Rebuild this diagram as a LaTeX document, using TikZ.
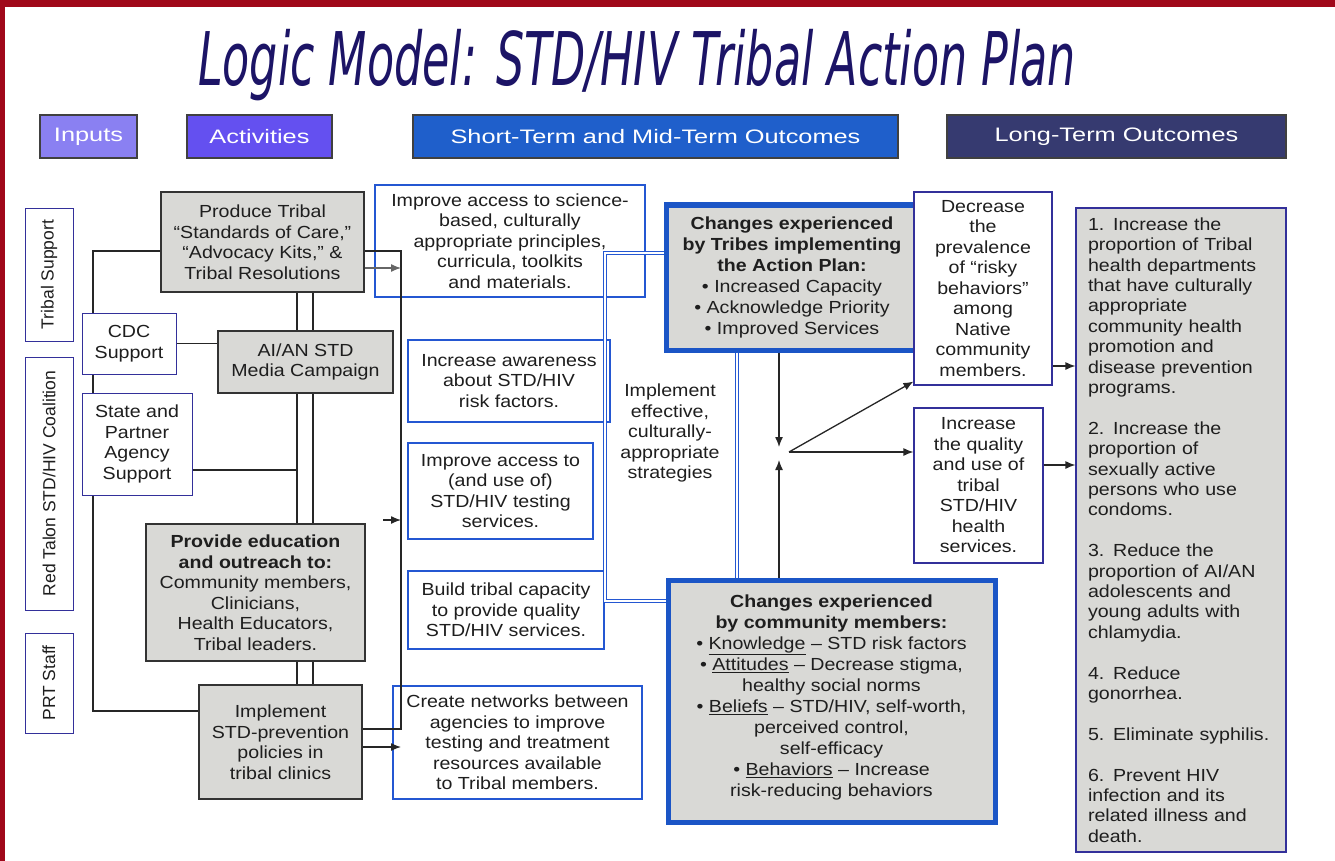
\documentclass[tikz,border=0pt]{standalone}
\usepackage{fontspec}
\setmainfont{Liberation Sans}[FakeStretch=1.12]
\newfontfamily\hdfont{Liberation Sans}[FakeStretch=1.3]
\newfontfamily\sidefont{Liberation Sans}
\newfontfamily\titlefont{DejaVu Sans}[FakeStretch=0.6]
\usetikzlibrary{arrows.meta,backgrounds}

\definecolor{framered}{HTML}{A0081A}
\definecolor{titleblue}{HTML}{1C1466}
\definecolor{inpcol}{HTML}{8A80F2}
\definecolor{actcol}{HTML}{6450F0}
\definecolor{stcol}{HTML}{1F5FCB}
\definecolor{ltcol}{HTML}{363A70}
\definecolor{navy}{HTML}{33309A}
\definecolor{outblue}{HTML}{2457D2}
\definecolor{bigblue}{HTML}{1B55C6}
\definecolor{boxgray}{HTML}{D9D9D6}
\definecolor{txt}{HTML}{1E1E1E}

\begin{document}
\begin{tikzpicture}[x=1pt,y=-1pt,
  every node/.style={font=\fontsize{17.5}{20.5}\selectfont, text=txt, inner sep=0pt, align=center},
  hdr/.style={draw=black!75, line width=1.5pt, text=white, font=\hdfont\fontsize{19.5}{22}\selectfont, minimum height=43pt},
  side/.style={draw=navy, line width=1pt, rotate=90, font=\sidefont\fontsize{17.5}{20}\selectfont, minimum height=48pt},
  inp/.style={draw=navy, line width=1pt, fill=white},
  act/.style={draw=black!80, line width=1.3pt, fill=boxgray},
  outc/.style={draw=outblue, line width=1.1pt, fill=white},
  mid/.style={draw=navy, line width=1.1pt, fill=white},
  big/.style={draw=bigblue, line width=5pt, fill=boxgray, font=\fontsize{17.5}{21}\selectfont},
  link/.style={draw=black!85, line width=1.3pt},
  arr/.style={link, -{Latex[length=10pt,width=8pt]}},
  bus/.style={draw=outblue, line width=1.1pt, double=white, double distance=2.2pt}]
  \useasboundingbox (0,0) rectangle (1335,861);
  \fill[framered] (0,0) rectangle (1335,7);
  \fill[framered] (0,0) rectangle (5,861);

  \node[anchor=base, text=titleblue, font=\titlefont\itshape\fontsize{74}{74}\selectfont] (title) at (637,86) {Logic Model: STD/HIV Tribal Action Plan};

  % column headers
  \node[hdr, fill=inpcol, minimum width=97pt] (hin) at (88.5,136.5) {Inputs};
  \node[hdr, fill=actcol, minimum width=145pt] (hact) at (259.5,136.5) {Activities};
  \node[hdr, fill=stcol, minimum width=485pt] (hst) at (655.5,136.5) {Short-Term and Mid-Term Outcomes};
  \node[hdr, fill=ltcol, minimum width=339pt] (hlt) at (1116.5,136.5) {Long-Term Outcomes};

  % inputs
  \node[side, minimum width=133pt] (trib) at (49,274.5) {Tribal Support};
  \node[side, minimum width=253pt] (rtc) at (49,483.5) {Red Talon STD/HIV Coalition};
  \node[side, minimum width=100pt] (prt) at (49,683) {PRT Staff};
  \node[inp, minimum width=94pt, minimum height=61pt] (cdc) at (129,343.5) {CDC\\Support};
  \node[inp, minimum width=110pt, minimum height=102pt] (state) at (137,444) {State and\\Partner\\Agency\\Support};

  % activities
  \node[act, minimum width=203pt, minimum height=100pt] (prod) at (262.5,242) {Produce Tribal\\“Standards of Care,”\\“Advocacy Kits,” \&\\Tribal Resolutions};
  \node[act, minimum width=175pt, minimum height=62pt] (media) at (305.5,362) {AI/AN STD\\Media Campaign};
  \node[act, minimum width=219pt, minimum height=137pt] (edu) at (255.5,592.5) {\textbf{Provide education}\\\textbf{and outreach to:}\\Community members,\\Clinicians,\\Health Educators,\\Tribal leaders.};
  \node[act, minimum width=163pt, minimum height=114pt] (impl) at (280.5,742) {Implement\\STD-prevention\\policies in\\tribal clinics};

  % short-term outcomes
  \node[outc, minimum width=270pt, minimum height=112pt] (acc) at (510,241) {Improve access to science-\\based, culturally\\appropriate principles,\\curricula, toolkits\\and materials.};
  \node[outc, minimum width=202pt, minimum height=82pt] (aware) at (509,381) {Increase awareness\\about STD/HIV\\risk factors.};
  \node[outc, minimum width=185pt, minimum height=96pt] (test) at (500.5,491) {Improve access to\\(and use of)\\STD/HIV testing\\services.};
  \node[outc, minimum width=196pt, minimum height=78pt] (cap) at (506,610) {Build tribal capacity\\to provide quality\\STD/HIV services.};
  \node[outc, minimum width=249pt, minimum height=113pt] (netw) at (517.5,742.5) {Create networks between\\agencies to improve\\testing and treatment\\resources available\\to Tribal members.};

  \node (strat) at (670,433) {Implement\\effective,\\culturally-\\appropriate\\strategies};

  \node[big, minimum width=252pt, minimum height=145pt] (tribes) at (792,277.5) {\textbf{Changes experienced}\\\textbf{by Tribes implementing}\\\textbf{the Action Plan:}\\• Increased Capacity\\• Acknowledge Priority\\• Improved Services};
  \node[big, minimum width=327pt, minimum height=242pt] (comm) at (831.5,701) {\textbf{Changes experienced}\\\textbf{by community members:}\\• \underline{Knowledge} – STD risk factors\\• \underline{Attitudes} – Decrease stigma,\\healthy social norms\\• \underline{Beliefs} – STD/HIV, self-worth,\\perceived control,\\self-efficacy\\• \underline{Behaviors} – Increase\\risk-reducing behaviors\\[-10pt]\mbox{}};

  % mid-term outcomes
  \node[mid, minimum width=138pt, minimum height=193pt] (decr) at (983,288.5) {Decrease\\the\\prevalence\\of “risky\\behaviors”\\among\\Native\\community\\members.};
  \node[mid, minimum width=129pt, minimum height=155pt] (qual) at (978.5,485.5) {Increase\\the quality\\and use of\\tribal\\STD/HIV\\health\\services.};

  % long-term outcomes
  \node[mid, fill=boxgray, minimum width=210pt, minimum height=644pt, text width=186pt, align=left, font=\fontsize{17.5}{20.4}\selectfont] (long) at (1181,530) {1. Increase the\\proportion of Tribal\\health departments\\that have culturally\\appropriate\\community health\\promotion and\\disease prevention\\programs.\\[20.4pt]
    2. Increase the\\proportion of\\sexually active\\persons who use\\condoms.\\[20.4pt]
    3. Reduce the\\proportion of AI/AN\\adolescents and\\young adults with\\chlamydia.\\[20.4pt]
    4. Reduce\\gonorrhea.\\[20.4pt]
    5. Eliminate syphilis.\\[20.4pt]
    6. Prevent HIV\\infection and its\\related illness and\\death.};

  \coordinate (bl) at (93,600);
  \coordinate (ta) at (297,0);
  \coordinate (tb) at (313,0);
  \coordinate (br) at (401,0);
  \coordinate (s1) at (383,520);
  \coordinate (bv1) at (605,430);
  \coordinate (bv2) at (737,0);
  \coordinate (hub) at (779,452);
  \coordinate (d1) at ([yshift=-77.5pt]decr.east);
  \coordinate (q1) at ([yshift=20.5pt]qual.east);

  \begin{scope}[on background layer]
    \draw[link] ([yshift=-9pt]prod.west) -| (bl) |- ([yshift=31pt]impl.west);
    \draw[link] (cdc.east) -- (cdc.east -| media.west);
    \draw[link] ([yshift=-26pt]state.east) -- ([yshift=-26pt]state.east -| ta);
    \foreach \c in {ta,tb}
      \draw[link] (prod.south -| \c) -- (impl.north -| \c);
  \end{scope}

  \draw[link] ([yshift=-9pt]prod.east) -| ([yshift=13pt]impl.east -| br) -- ([yshift=13pt]impl.east);
  \draw[arr, black!60] ([yshift=-26pt]prod.east) -- ([yshift=-26pt]prod.east -| br);
  \draw[arr] (s1) -- (s1 -| br);
  \draw[arr] ([yshift=-5pt]impl.east) -- ([yshift=-5pt]impl.east -| br);

  \draw[bus] ([yshift=24.5pt]tribes.west) -| (bv1) |- ([yshift=100pt]comm.west);
  \draw[bus] (tribes.south -| bv2) -- (comm.north -| bv2);

  \draw[arr] (tribes.south -| hub) -- ([yshift=5pt]hub);
  \draw[arr] (comm.north -| hub) -- ([yshift=-8pt]hub);
  \draw[arr] ([xshift=10pt]hub) -- ([yshift=4pt]decr.south west);
  \draw[arr] ([xshift=10pt]hub) -- (hub -| qual.west);
  \draw[arr] (d1) -- (d1 -| long.west);
  \draw[arr] (q1) -- (q1 -| long.west);
\end{tikzpicture}
\end{document}
